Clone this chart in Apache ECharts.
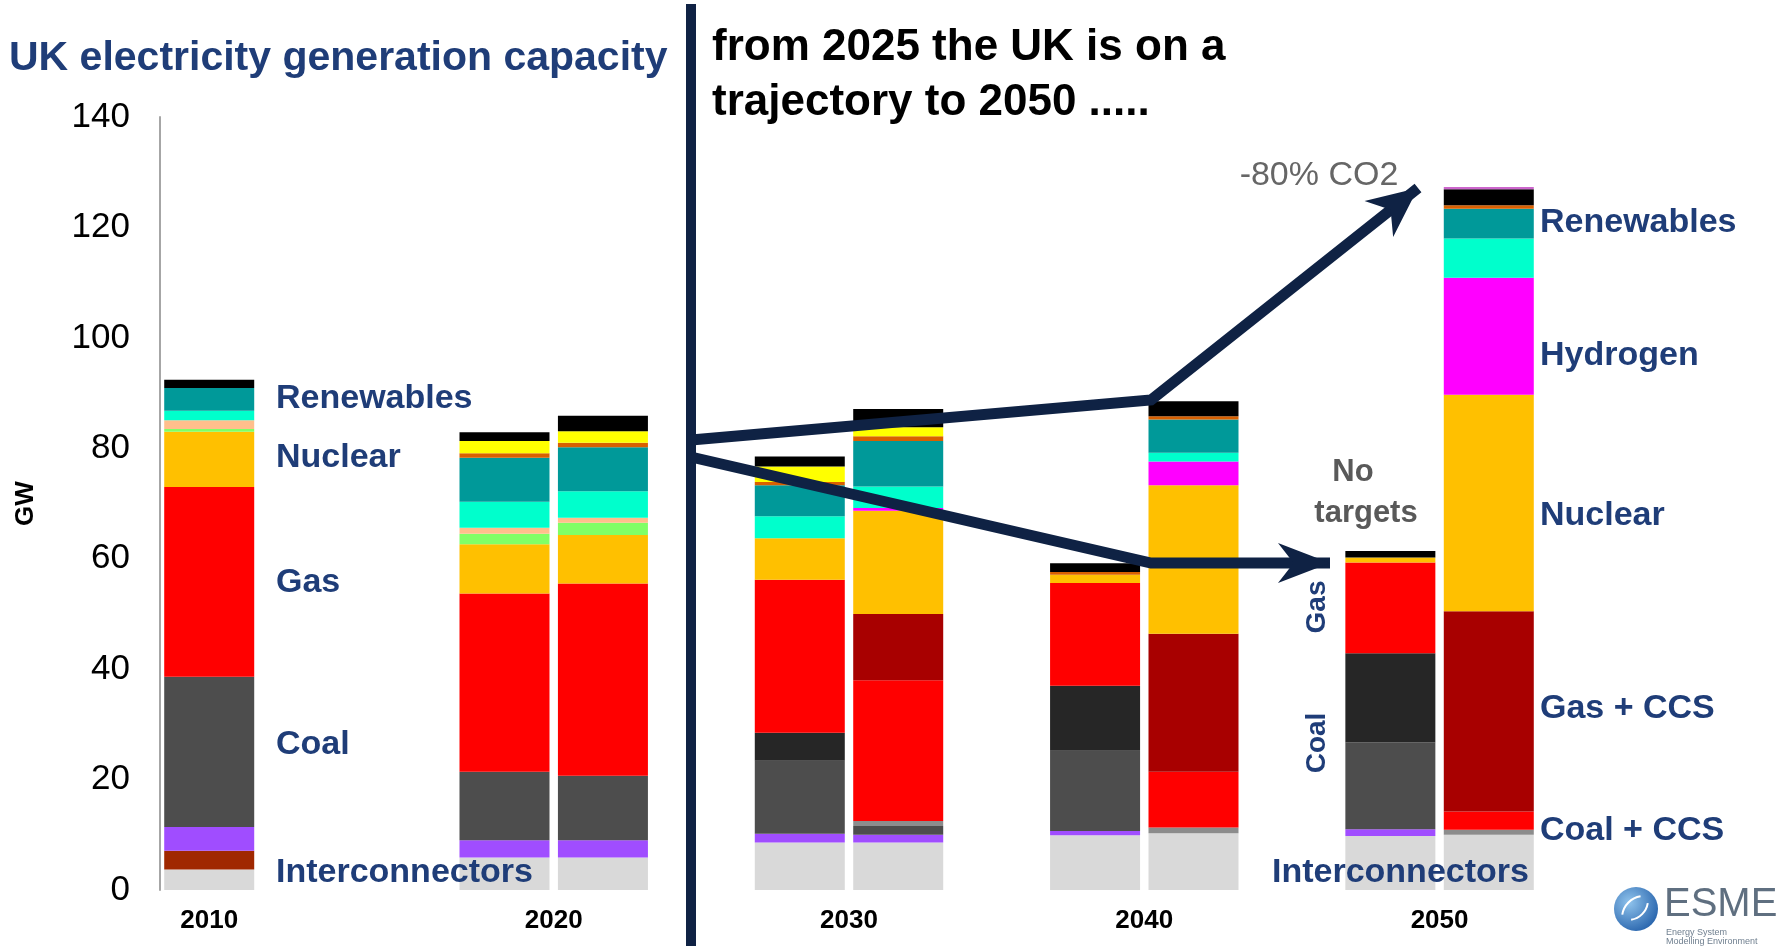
<!DOCTYPE html>
<html>
<head>
<meta charset="utf-8">
<script src="https://cdn.jsdelivr.net/npm/echarts@6/dist/echarts.min.js"></script>
<style>
html,body{margin:0;padding:0;background:#fff;}
#chart{width:1781px;height:951px;}
</style>
</head>
<body>
<div id="chart"></div>
<script>
// ---- Data ----
// bar order: 2010, 2020a, 2020b, 2030a, 2030b, 2040a, 2040b, 2050a, 2050b
const barSlots = [0, 3, 4, 6, 7, 9, 10, 12, 13];
const slotCount = 14;
const yearLabels = ['2010', '2020', '2030', '2040', '2050'];
const yearLabelPos = [0, 3.5, 6.5, 9.5, 12.5];
const yTicks = [0, 20, 40, 60, 80, 100, 120, 140];

const interconnectors = [3.7, 5.9, 5.9, 8.6, 8.6, 9.9, 10.3, 9.8, 10.0];
const oil            = [3.4, 0, 0, 0, 0, 0, 0, 0, 0];
const otherThermal   = [4.3, 3.1, 3.1, 1.6, 1.4, 0.8, 0, 1.2, 0];
const coal           = [27.2, 12.4, 11.7, 13.2, 1.6, 14.5, 0, 15.7, 0];
const coalCcs        = [0, 0, 0, 0, 0.9, 0, 1.0, 0, 0.9];
const coalNew        = [0, 0, 0, 5.1, 0, 11.8, 0, 16.2, 0];
const gas            = [34.4, 32.3, 34.8, 27.7, 25.5, 18.6, 10.1, 16.4, 3.3];
const gasCcs         = [0, 0, 0, 0, 12.0, 0, 25.0, 0, 36.3];
const nuclear        = [10.0, 8.9, 8.8, 7.5, 18.7, 1.5, 26.9, 0.9, 39.2];
const hydrogen       = [0, 0, 0, 0, 0.5, 0, 4.3, 0, 21.2];
const biomass        = [0.5, 1.9, 2.2, 0, 0, 0, 0, 0, 0];
const marine         = [1.6, 1.1, 0.9, 0, 0, 0, 0, 0, 0];
const onshoreWind    = [1.7, 4.7, 4.8, 4.0, 3.9, 0, 1.6, 0, 7.1];
const offshoreWind   = [4.1, 8.0, 8.0, 5.6, 8.2, 0, 6.0, 0, 5.4];
const hydro          = [0, 0.8, 0.8, 0.6, 0.9, 0.5, 0.6, 0, 0.6];
const solar          = [0, 2.2, 2.1, 2.8, 1.6, 0, 0, 0, 0];
const storage        = [1.5, 1.6, 2.8, 1.8, 3.3, 1.6, 2.7, 1.2, 2.9];
const otherRenew     = [0, 0, 0, 0, 0, 0, 0, 0, 0.4];

const layers = [
  ['Interconnectors', interconnectors, '#d9d9d9'],
  ['Oil', oil, '#a02800'],
  ['Other thermal', otherThermal, '#a04dff'],
  ['Coal', coal, '#4d4d4d'],
  ['Coal + CCS', coalCcs, '#8c8c8c'],
  ['New coal', coalNew, '#262626'],
  ['Gas', gas, '#ff0000'],
  ['Gas + CCS', gasCcs, '#a80000'],
  ['Nuclear', nuclear, '#ffc000'],
  ['Hydrogen', hydrogen, '#ff00ff'],
  ['Biomass', biomass, '#80ff66'],
  ['Marine', marine, '#ffbf8c'],
  ['Onshore wind', onshoreWind, '#00ffcc'],
  ['Offshore wind', offshoreWind, '#009999'],
  ['Hydro', hydro, '#d96000'],
  ['Solar', solar, '#ffff00'],
  ['Storage', storage, '#000000'],
  ['Other renewables', otherRenew, '#cc66cc']
];

function toSlots(vals) {
  const arr = new Array(slotCount).fill('-');
  barSlots.forEach((s, i) => { arr[s] = vals[i]; });
  return arr;
}

const series = layers.map(([name, vals, color]) => ({
  name: name,
  type: 'bar',
  stack: 'total',
  xAxisIndex: 0,
  barWidth: 90,
  data: toSlots(vals),
  itemStyle: { color: color },
  emphasis: { disabled: true },
  silent: true
}));

// ---- Decorations ----
const NAVY = '#0f2244';
const BLUE = '#1f3d78';
const FONT = '"Liberation Sans", Arial, Helvetica, sans-serif';

function arrowHead(from, tip, len, half) {
  const dx = tip[0] - from[0], dy = tip[1] - from[1];
  const L = Math.sqrt(dx * dx + dy * dy);
  const ux = dx / L, uy = dy / L, nx = -uy, ny = ux;
  const bx = tip[0] - ux * len, by = tip[1] - uy * len;
  const notch = [tip[0] - ux * len * 0.7, tip[1] - uy * len * 0.7];
  return [tip, [bx + nx * half, by + ny * half], notch, [bx - nx * half, by - ny * half]];
}

function txt(text, x, y, font, fill, align, rotation) {
  return {
    type: 'text', x: x, y: y, z: 100, rotation: rotation || 0,
    style: { text: text, font: font, fill: fill, align: align || 'left', verticalAlign: 'middle' }
  };
}

const upperPts = [[691, 440], [1151, 400], [1398, 204]];
const upperTip = [1418, 188];
const lowerPts = [[691, 457], [1151, 563], [1305, 563]];
const lowerTip = [1330, 563];

const blueBold = 'bold 34px ' + FONT;

const graphics = [
  txt('UK electricity generation capacity', 9, 59, 'bold 41px ' + FONT, BLUE),
  txt('from 2025 the UK is on a', 712, 48, 'bold 44px ' + FONT, '#000'),
  txt('trajectory to 2050 .....', 712, 103, 'bold 44px ' + FONT, '#000'),
  { type: 'line', z: 100, shape: { x1: 691, y1: 4, x2: 691, y2: 946 }, style: { stroke: NAVY, lineWidth: 10 } },
  { type: 'polyline', z: 100, shape: { points: upperPts.concat([upperTip]) }, style: { stroke: NAVY, lineWidth: 11, fill: null, lineJoin: 'miter' } },
  { type: 'polygon', z: 100, shape: { points: arrowHead(upperPts[1], upperTip, 50, 23) }, style: { fill: NAVY } },
  { type: 'polyline', z: 100, shape: { points: lowerPts.concat([lowerTip]) }, style: { stroke: NAVY, lineWidth: 11, fill: null, lineJoin: 'miter' } },
  { type: 'polygon', z: 100, shape: { points: arrowHead(lowerPts[1], lowerTip, 52, 20) }, style: { fill: NAVY } },
  txt('-80% CO2', 1319, 176, '34px ' + FONT, '#666666', 'center'),
  txt('No', 1353, 472, 'bold 31px ' + FONT, '#595959', 'center'),
  txt('targets', 1366, 513, 'bold 31px ' + FONT, '#595959', 'center'),
  txt('Renewables', 276, 399, blueBold, BLUE),
  txt('Nuclear', 276, 458, blueBold, BLUE),
  txt('Gas', 276, 583, blueBold, BLUE),
  txt('Coal', 276, 745, blueBold, BLUE),
  txt('Interconnectors', 276, 873, blueBold, BLUE),
  txt('Renewables', 1540, 223, blueBold, BLUE),
  txt('Hydrogen', 1540, 356, blueBold, BLUE),
  txt('Nuclear', 1540, 516, blueBold, BLUE),
  txt('Gas + CCS', 1540, 709, blueBold, BLUE),
  txt('Coal + CCS', 1540, 831, blueBold, BLUE),
  txt('Interconnectors', 1272, 873, blueBold, BLUE),
  txt('Gas', 1317, 607, 'bold 28px ' + FONT, BLUE, 'center', Math.PI / 2),
  txt('Coal', 1317, 743, 'bold 28px ' + FONT, BLUE, 'center', Math.PI / 2),
  // ESME logo
  { type: 'circle', z: 100, shape: { cx: 1636, cy: 909, r: 22 },
    style: { fill: { type: 'radial', x: 0.35, y: 0.35, r: 0.8, colorStops: [{ offset: 0, color: '#8fc3ec' }, { offset: 1, color: '#1d5aa6' }] } } },
  { type: 'arc', z: 101, shape: { cx: 1644, cy: 918, r: 22, startAngle: Math.PI * 1.05, endAngle: Math.PI * 1.45 }, style: { stroke: '#ffffff', lineWidth: 2, fill: null } },
  { type: 'arc', z: 101, shape: { cx: 1628, cy: 900, r: 20, startAngle: Math.PI * 0.05, endAngle: Math.PI * 0.45 }, style: { stroke: '#ffffff', lineWidth: 2, fill: null } },
  txt('ESME', 1664, 905, '40px ' + FONT, '#5f6f80'),
  txt('Energy System', 1666, 933, '9px ' + FONT, '#6f7f8f'),
  txt('Modelling Environment', 1666, 942, '9px ' + FONT, '#6f7f8f')
];

const chart = echarts.init(document.getElementById('chart'), null, { renderer: 'canvas' });
chart.setOption({
  animation: false,
  backgroundColor: '#ffffff',
  textStyle: { fontFamily: FONT },
  grid: { left: 160, right: 243, top: 117, bottom: 61, containLabel: false },
  xAxis: [
    {
      type: 'category',
      position: 'bottom',
      data: Array.from({ length: slotCount }, (_, i) => 'slot' + i),
      axisLine: { show: false },
      axisTick: { show: false },
      axisLabel: { show: false },
      splitLine: { show: false }
    },
    {
      type: 'value',
      position: 'bottom',
      min: -0.5,
      max: 13.5,
      interval: 0.5,
      axisLine: { show: false },
      axisTick: { show: false },
      splitLine: { show: false },
      axisLabel: {
        margin: 18,
        fontSize: 26,
        fontWeight: 'bold',
        color: '#000',
        fontFamily: FONT,
        formatter: function (v) {
          const r = Math.round(v * 2) / 2;
          const idx = yearLabelPos.indexOf(r);
          return idx >= 0 ? yearLabels[idx] : '';
        }
      }
    }
  ],
  yAxis: {
    type: 'value',
    min: yTicks[0],
    max: yTicks[yTicks.length - 1],
    interval: 20,
    name: 'GW',
    nameLocation: 'middle',
    nameGap: 121,
    nameTextStyle: { fontSize: 26, fontWeight: 'bold', color: '#000', fontFamily: FONT },
    axisLine: { show: true, onZero: false, lineStyle: { color: '#a6a6a6', width: 2 } },
    axisTick: { show: false },
    splitLine: { show: false },
    axisLabel: { fontSize: 35, color: '#000', margin: 30, fontFamily: FONT }
  },
  series: series,
  graphic: graphics
});
</script>
</body>
</html>
